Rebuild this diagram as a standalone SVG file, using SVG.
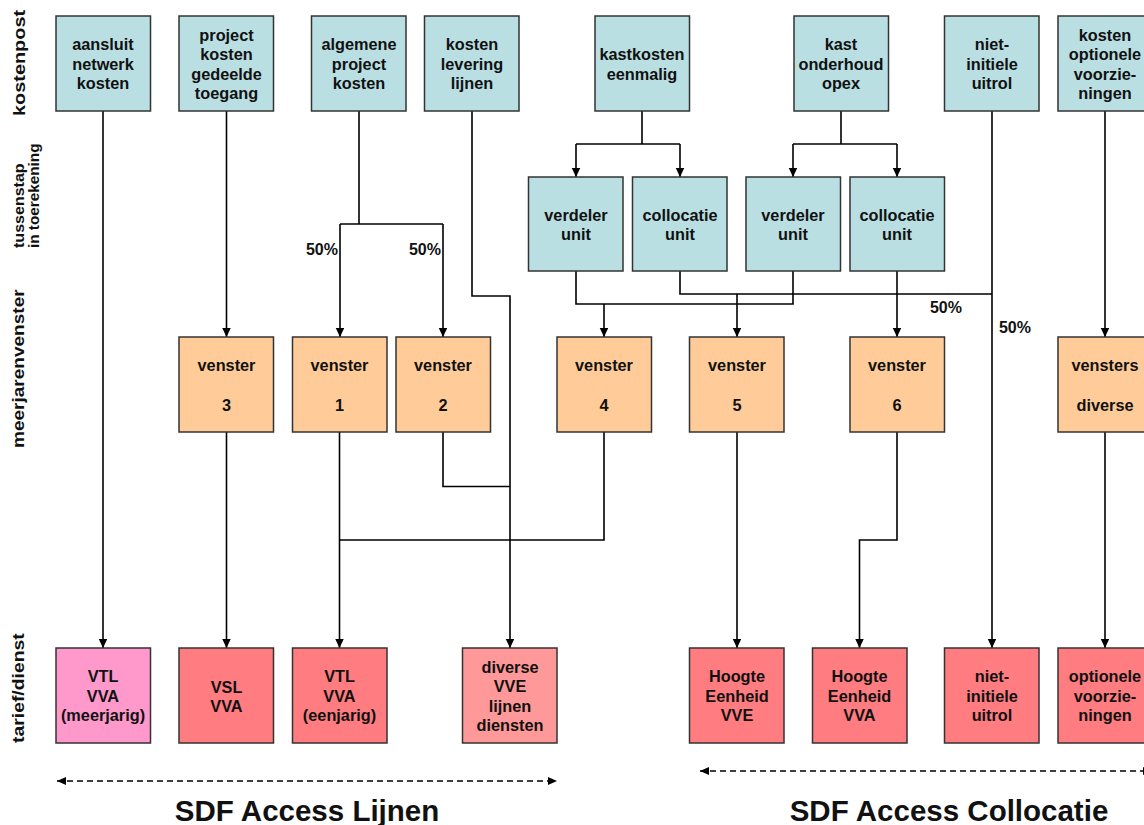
<svg xmlns="http://www.w3.org/2000/svg" width="1144" height="825" viewBox="0 0 1144 825">
<style>
.box{stroke:#333;stroke-width:1.5}
.c{fill:#B9DFE2}
.o{fill:#FFCC99}
.r{fill:#FF7C80}
.p{fill:#FF99CC}
.s{fill:#FF9999}
.t{font-family:"Liberation Sans",Arial,sans-serif;font-weight:bold;font-size:16.3px;fill:#111;text-anchor:middle}
.lbl{font-family:"Liberation Sans",Arial,sans-serif;font-weight:bold;fill:#111}
.ln{fill:none;stroke:#000;stroke-width:1.6}
.dash{fill:none;stroke:#000;stroke-width:1.5;stroke-dasharray:6,4}
.title{font-family:"Liberation Sans",Arial,sans-serif;font-weight:bold;font-size:29.5px;fill:#111;text-anchor:middle}
</style>
<defs>
<marker id="ah" markerUnits="userSpaceOnUse" markerWidth="10" markerHeight="10" refX="9" refY="4.25" orient="auto">
<path d="M0,0 L9,4.25 L0,8.5 z" fill="#000"/>
</marker>
<marker id="dh" markerUnits="userSpaceOnUse" markerWidth="10" markerHeight="10" refX="9" refY="4" orient="auto-start-reverse">
<path d="M0,0 L9,4 L0,8 z" fill="#000"/>
</marker>
</defs>
<rect width="1144" height="825" fill="#fff"/>

<!-- row labels -->
<g id="rowlabels" class="lbl">
<text transform="translate(25,116) rotate(-90) scale(1.17,1)" font-size="17">kostenpost</text>
<text transform="translate(24,248) rotate(-90) scale(1.07,1)" font-size="15">tussenstap</text>
<text transform="translate(39,248) rotate(-90) scale(1.02,1)" font-size="15">in toerekening</text>
<text transform="translate(24,448) rotate(-90) scale(1.12,1)" font-size="17">meerjarenvenster</text>
<text transform="translate(24,743) rotate(-90) scale(1.14,1)" font-size="17">tarief/dienst</text>
</g>

<!-- connectors -->
<g id="connectors">
<path class="ln" d="M103,111 V648" marker-end="url(#ah)"/>
<path class="ln" d="M226.5,111 V337" marker-end="url(#ah)"/>
<path class="ln" d="M226.5,432 V648" marker-end="url(#ah)"/>
<path class="ln" d="M359,111 V224 M340,224 H443"/>
<path class="ln" d="M340,224 V337" marker-end="url(#ah)"/>
<path class="ln" d="M443,224 V337" marker-end="url(#ah)"/>
<path class="ln" d="M472,111 V296 H510 V648" marker-end="url(#ah)"/>
<path class="ln" d="M443,432 V486.5 H510"/>
<path class="ln" d="M339.5,432 V648" marker-end="url(#ah)"/>
<path class="ln" d="M604,432 V540 H339.5"/>
<path class="ln" d="M642,111 V144 M576,144 H680"/>
<path class="ln" d="M576,144 V177" marker-end="url(#ah)"/>
<path class="ln" d="M680,144 V177" marker-end="url(#ah)"/>
<path class="ln" d="M841,111 V144 M793,144 H897"/>
<path class="ln" d="M793,144 V177" marker-end="url(#ah)"/>
<path class="ln" d="M897,144 V177" marker-end="url(#ah)"/>
<path class="ln" d="M576,271 V304 H793 V271"/>
<path class="ln" d="M604,304 V337" marker-end="url(#ah)"/>
<path class="ln" d="M680,271 V294 H992"/>
<path class="ln" d="M737,294 V337" marker-end="url(#ah)"/>
<path class="ln" d="M897,271 V337" marker-end="url(#ah)"/>
<path class="ln" d="M992,111 V648" marker-end="url(#ah)"/>
<path class="ln" d="M1105,111 V337" marker-end="url(#ah)"/>
<path class="ln" d="M1105,432 V648" marker-end="url(#ah)"/>
<path class="ln" d="M737,432 V648" marker-end="url(#ah)"/>
<path class="ln" d="M897,432 V540 H859.5 V648" marker-end="url(#ah)"/>
<path class="dash" d="M57,781 H557" marker-start="url(#dh)" marker-end="url(#dh)"/>
<path class="dash" d="M700,771 H1152" marker-start="url(#dh)" marker-end="url(#dh)"/>
</g>

<g id="percent" class="lbl" font-size="16">
<text x="338" y="255" text-anchor="end">50%</text>
<text x="441" y="255" text-anchor="end">50%</text>
<text x="962" y="313" text-anchor="end">50%</text>
<text x="1031" y="332.5" text-anchor="end">50%</text>
</g>

<!-- top row -->
<g id="n_aansluit"><rect class="box c" x="56" y="16" width="94.5" height="95"/>
<text class="t"><tspan x="103" y="50">aansluit</tspan><tspan x="103" y="69.5">netwerk</tspan><tspan x="103" y="89">kosten</tspan></text></g>
<g id="n_project"><rect class="box c" x="179" y="16" width="94.5" height="95"/>
<text class="t"><tspan x="226.5" y="40.5">project</tspan><tspan x="226.5" y="60">kosten</tspan><tspan x="226.5" y="79.5">gedeelde</tspan><tspan x="226.5" y="99">toegang</tspan></text></g>
<g id="n_algemene"><rect class="box c" x="311.5" y="16" width="94.5" height="95"/>
<text class="t"><tspan x="359" y="50">algemene</tspan><tspan x="359" y="69.5">project</tspan><tspan x="359" y="89">kosten</tspan></text></g>
<g id="n_levering"><rect class="box c" x="424.5" y="16" width="94.5" height="95"/>
<text class="t"><tspan x="472" y="50">kosten</tspan><tspan x="472" y="69.5">levering</tspan><tspan x="472" y="89">lijnen</tspan></text></g>
<g id="n_kastkosten"><rect class="box c" x="595" y="16" width="94.5" height="95"/>
<text class="t"><tspan x="642" y="60">kastkosten</tspan><tspan x="642" y="79.5">eenmalig</tspan></text></g>
<g id="n_kast"><rect class="box c" x="794" y="16" width="94.5" height="95"/>
<text class="t"><tspan x="841" y="50">kast</tspan><tspan x="841" y="69.5">onderhoud</tspan><tspan x="841" y="89">opex</tspan></text></g>
<g id="n_niet"><rect class="box c" x="944.5" y="16" width="94.5" height="95"/>
<text class="t"><tspan x="992" y="50">niet-</tspan><tspan x="992" y="69.5">initiele</tspan><tspan x="992" y="89">uitrol</tspan></text></g>
<g id="n_optioneel"><rect class="box c" x="1058" y="16" width="94.5" height="95"/>
<text class="t"><tspan x="1105" y="40.5">kosten</tspan><tspan x="1105" y="60">optionele</tspan><tspan x="1105" y="79.5">voorzie-</tspan><tspan x="1105" y="99">ningen</tspan></text></g>

<!-- units -->
<g id="u_verdeler1"><rect class="box c" x="528.5" y="177" width="94.5" height="94"/>
<text class="t"><tspan x="576" y="220.5">verdeler</tspan><tspan x="576" y="240">unit</tspan></text></g>
<g id="u_colloc1"><rect class="box c" x="632.5" y="177" width="94.5" height="94"/>
<text class="t"><tspan x="680" y="220.5">collocatie</tspan><tspan x="680" y="240">unit</tspan></text></g>
<g id="u_verdeler2"><rect class="box c" x="746" y="177" width="94.5" height="94"/>
<text class="t"><tspan x="793" y="220.5">verdeler</tspan><tspan x="793" y="240">unit</tspan></text></g>
<g id="u_colloc2"><rect class="box c" x="850" y="177" width="94.5" height="94"/>
<text class="t"><tspan x="897" y="220.5">collocatie</tspan><tspan x="897" y="240">unit</tspan></text></g>

<!-- vensters -->
<g id="v3"><rect class="box o" x="179" y="337" width="94.5" height="95"/>
<text class="t"><tspan x="226.5" y="370.5">venster</tspan><tspan x="226.5" y="410.5">3</tspan></text></g>
<g id="v1"><rect class="box o" x="292.5" y="337" width="94.5" height="95"/>
<text class="t"><tspan x="339.5" y="370.5">venster</tspan><tspan x="339.5" y="410.5">1</tspan></text></g>
<g id="v2"><rect class="box o" x="396" y="337" width="94.5" height="95"/>
<text class="t"><tspan x="443" y="370.5">venster</tspan><tspan x="443" y="410.5">2</tspan></text></g>
<g id="v4"><rect class="box o" x="557" y="337" width="94.5" height="95"/>
<text class="t"><tspan x="604" y="370.5">venster</tspan><tspan x="604" y="410.5">4</tspan></text></g>
<g id="v5"><rect class="box o" x="689.5" y="337" width="94.5" height="95"/>
<text class="t"><tspan x="737" y="370.5">venster</tspan><tspan x="737" y="410.5">5</tspan></text></g>
<g id="v6"><rect class="box o" x="850" y="337" width="94.5" height="95"/>
<text class="t"><tspan x="897" y="370.5">venster</tspan><tspan x="897" y="410.5">6</tspan></text></g>
<g id="vd"><rect class="box o" x="1058" y="337" width="94.5" height="95"/>
<text class="t"><tspan x="1105" y="370.5">vensters</tspan><tspan x="1105" y="410.5">diverse</tspan></text></g>

<!-- tarief/dienst -->
<g id="b_vtl_meer"><rect class="box p" x="56" y="648" width="94.5" height="95"/>
<text class="t"><tspan x="103" y="682">VTL</tspan><tspan x="103" y="701.5">VVA</tspan><tspan x="103" y="721">(meerjarig)</tspan></text></g>
<g id="b_vsl"><rect class="box r" x="179" y="648" width="94.5" height="95"/>
<text class="t"><tspan x="226.5" y="692.5">VSL</tspan><tspan x="226.5" y="712">VVA</tspan></text></g>
<g id="b_vtl_een"><rect class="box r" x="292.5" y="648" width="94.5" height="95"/>
<text class="t"><tspan x="339.5" y="682">VTL</tspan><tspan x="339.5" y="701.5">VVA</tspan><tspan x="339.5" y="721">(eenjarig)</tspan></text></g>
<g id="b_diverse"><rect class="box s" x="462.5" y="648" width="94.5" height="95"/>
<text class="t"><tspan x="510" y="672.5">diverse</tspan><tspan x="510" y="692">VVE</tspan><tspan x="510" y="711.5">lijnen</tspan><tspan x="510" y="731">diensten</tspan></text></g>
<g id="b_hvve"><rect class="box r" x="689.5" y="648" width="94.5" height="95"/>
<text class="t"><tspan x="737" y="682">Hoogte</tspan><tspan x="737" y="701.5">Eenheid</tspan><tspan x="737" y="721">VVE</tspan></text></g>
<g id="b_hvva"><rect class="box r" x="812.5" y="648" width="94.5" height="95"/>
<text class="t"><tspan x="859.5" y="682">Hoogte</tspan><tspan x="859.5" y="701.5">Eenheid</tspan><tspan x="859.5" y="721">VVA</tspan></text></g>
<g id="b_niet"><rect class="box r" x="944.5" y="648" width="94.5" height="95"/>
<text class="t"><tspan x="992" y="682">niet-</tspan><tspan x="992" y="701.5">initiele</tspan><tspan x="992" y="721">uitrol</tspan></text></g>
<g id="b_opt"><rect class="box r" x="1058" y="648" width="94.5" height="95"/>
<text class="t"><tspan x="1105" y="682">optionele</tspan><tspan x="1105" y="701.5">voorzie-</tspan><tspan x="1105" y="721">ningen</tspan></text></g>

<g id="titles">
<text class="title" x="307" y="821">SDF Access Lijnen</text>
<text class="title" x="949" y="821">SDF Access Collocatie</text>
</g>
</svg>
